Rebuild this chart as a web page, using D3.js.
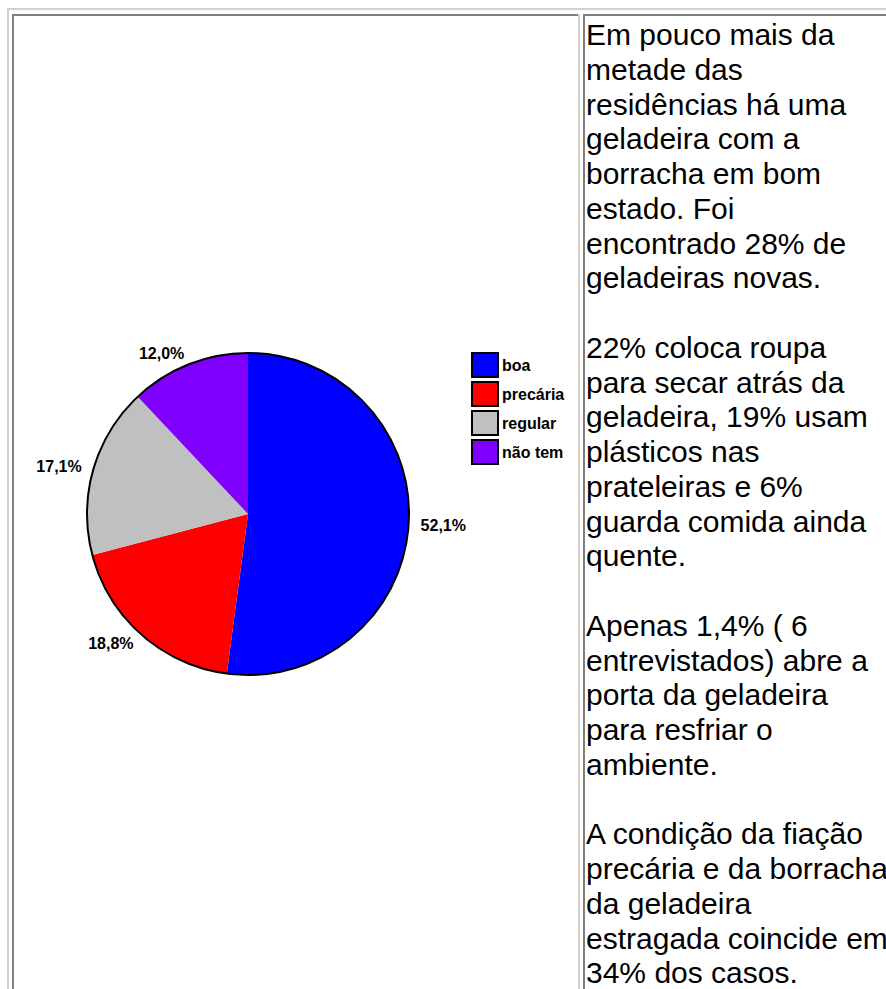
<!DOCTYPE html>
<html>
<head>
<meta charset="utf-8">
<script src="https://cdnjs.cloudflare.com/ajax/libs/d3/7.8.5/d3.min.js"></script>
<style>
body { margin: 0; background: #fff; overflow: hidden; }
</style>
</head>
<body>
<div id="chart"></div>
<script>
// data
var categories = ["boa", "precária", "regular", "não tem"];
var values = [52.1, 18.8, 17.1, 12.0];
var colors = ["#0000ff", "#ff0000", "#c0c0c0", "#8000ff"];

var paragraphs = [
	["Em pouco mais da", "metade das", "residências há uma", "geladeira com a", "borracha em bom", "estado. Foi", "encontrado 28% de", "geladeiras novas."],
	["22% coloca roupa", "para secar atrás da", "geladeira, 19% usam", "plásticos nas", "prateleiras e 6%", "guarda comida ainda", "quente."],
	["Apenas 1,4% ( 6", "entrevistados) abre a", "porta da geladeira", "para resfriar o", "ambiente."],
	["A condição da fiação", "precária e da borracha", "da geladeira", "estragada coincide em", "34% dos casos."]
];

var width = 886;
var height = 989;
var lightGray = "#d4d0c8";
var darkGray = "#808080";
var labelFont = "'Liberation Sans', Arial, sans-serif";

var svg = d3.select("#chart").append("svg")
	.attr("width", width)
	.attr("height", height);

//table borders
var borders = svg.append("g").attr("id", "borders");
borders.append("rect").attr("x", 7).attr("y", 8).attr("width", width - 7).attr("height", 2).attr("fill", lightGray);
borders.append("rect").attr("x", 7).attr("y", 8).attr("width", 2).attr("height", height - 8).attr("fill", lightGray);
//left cell
borders.append("rect").attr("x", 12).attr("y", 14).attr("width", 566).attr("height", 2).attr("fill", darkGray);
borders.append("rect").attr("x", 12).attr("y", 14).attr("width", 2).attr("height", height - 14).attr("fill", darkGray);
borders.append("rect").attr("x", 578).attr("y", 14).attr("width", 2).attr("height", height - 14).attr("fill", lightGray);
//right cell
borders.append("rect").attr("x", 583).attr("y", 14).attr("width", width - 583).attr("height", 2).attr("fill", darkGray);
borders.append("rect").attr("x", 583).attr("y", 14).attr("width", 2).attr("height", height - 14).attr("fill", darkGray);

//pie
var cx = 248, cy = 514, radius = 161;
var pie = d3.pie().sort(null).value(function(d){ return d; });
var arc = d3.arc().innerRadius(0).outerRadius(radius);
// labels sit just outside the rim, aligned away from the pie
var labelArc = d3.arc().innerRadius(radius + 12).outerRadius(radius + 12);
var pctFormat = d3.formatLocale({decimal: ",", thousands: ".", grouping: [3], currency: ["", ""]}).format(".1f");

var pieGroup = svg.append("g")
	.attr("id", "pie")
	.attr("transform", "translate(" + cx + "," + cy + ")");

pieGroup.selectAll("path.slice")
	.data(pie(values))
	.join("path")
	.attr("class", "slice")
	.attr("d", arc)
	.attr("fill", function(d, i){ return colors[i]; });

pieGroup.append("circle")
	.attr("r", radius)
	.attr("fill", "none")
	.attr("stroke", "#000")
	.attr("stroke-width", 2);

pieGroup.selectAll("text.pct")
	.data(pie(values))
	.join("text")
	.attr("class", "pct")
	.attr("x", function(d){ return labelArc.centroid(d)[0]; })
	.attr("y", function(d){ return labelArc.centroid(d)[1]; })
	.attr("text-anchor", function(d){ return labelArc.centroid(d)[0] < 0 ? "end" : "start"; })
	.attr("dominant-baseline", "central")
	.attr("font-family", labelFont)
	.attr("font-weight", "bold")
	.attr("font-size", 16)
	.attr("fill", "#000")
	.text(function(d){ return pctFormat(d.data) + "%"; });

//legend
var legendY = d3.scaleBand().domain(categories).range([352, 468]);
var legend = svg.append("g").attr("id", "legend");

legend.selectAll("rect")
	.data(categories)
	.join("rect")
	.attr("x", 472)
	.attr("y", function(d){ return legendY(d) + 1; })
	.attr("width", 26)
	.attr("height", legendY.step() - 5)
	.attr("fill", function(d, i){ return colors[i]; })
	.attr("stroke", "#000")
	.attr("stroke-width", 2);

legend.selectAll("text")
	.data(categories)
	.join("text")
	.attr("x", 502)
	.attr("y", function(d){ return legendY(d) + legendY.step() / 2 - 1; })
	.attr("dominant-baseline", "central")
	.attr("font-family", labelFont)
	.attr("font-weight", "bold")
	.attr("font-size", 16)
	.attr("fill", "#000")
	.text(function(d){ return d; });

//side text, one blank line between paragraphs
var lines = [];
paragraphs.forEach(function(p, i){
	if (i > 0) lines.push("");
	lines = lines.concat(p);
});
var lineY = d3.scaleLinear().domain([0, 1]).range([45, 45 + 34.75]);

svg.append("g")
	.attr("id", "side-text")
	.selectAll("text")
	.data(lines)
	.join("text")
	.attr("x", 586)
	.attr("y", function(d, i){ return lineY(i); })
	.attr("font-family", labelFont)
	.attr("font-size", 30)
	.attr("fill", "#000")
	.text(function(d){ return d; });
</script>
</body>
</html>
